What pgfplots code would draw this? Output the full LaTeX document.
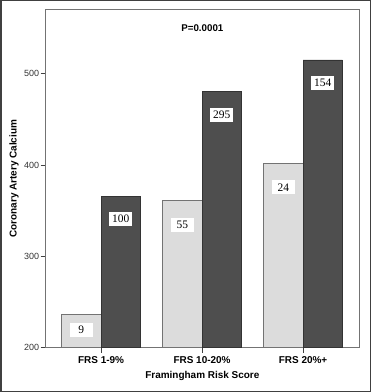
\documentclass[border=0pt]{standalone}
\usepackage{fontspec}
\setmainfont{Liberation Serif}
\setsansfont{Liberation Sans}
\usepackage{pgfplots}
\pgfplotsset{compat=1.18}
\definecolor{lightbar}{HTML}{DCDCDC}
\definecolor{darkbar}{HTML}{4E4E4E}
\begin{document}
\begin{tikzpicture}
\useasboundingbox (0,0) rectangle (371bp,392bp);
\draw[line width=1.5bp, color=black!75] (0.75bp,0.75bp) rectangle (370.25bp,391.25bp);
\begin{axis}[
  at={(45.7bp,44.3bp)}, anchor=south west,
  scale only axis, width=313.3bp, height=338bp,
  xmin=-0.548, xmax=2.554, ymin=200, ymax=570,
  xtick={0,1,2}, xticklabels={FRS 1-9\%, FRS 10-20\%, FRS 20\%+},
  ytick={200,300,400,500},
  tick align=outside, major tick length=5bp,
  xtick pos=bottom, ytick pos=left,
  axis line style={black!55, line width=0.8bp},
  tick style={black!75, line width=0.8bp},
  /pgf/number format/assume math mode=true,
  yticklabel style={font=\sffamily\fontsize{9}{10}\selectfont, text=black!80, inner sep=1.5bp},
  xticklabel style={font=\sffamily\bfseries\fontsize{10}{12}\selectfont},
  title={P=0.0001},
  title style={at={(axis description cs:0.5,0.928)}, anchor=center, font=\sffamily\bfseries\fontsize{9.8}{12}\selectfont},
  xlabel={Framingham Risk Score},
  xlabel style={at={(axis description cs:0.5,-0.085)}, anchor=center, font=\sffamily\bfseries\fontsize{10}{12}\selectfont},
  ylabel={Coronary Artery Calcium},
  ylabel style={at={(axis description cs:-0.101,0.5)}, anchor=center, rotate=0, font=\sffamily\bfseries\fontsize{10}{12}\selectfont},
]
\addplot[ybar, bar width=0.39, bar shift=0pt, fill=lightbar, draw=black!55, line width=0.7bp]
  coordinates {(-0.195,236.6) (0.805,361) (1.805,402)};
\addplot[ybar, bar width=0.39, bar shift=0pt, fill=darkbar, draw=black!80, line width=0.7bp]
  coordinates {(0.195,366) (1.195,481) (2.195,515)};
\addplot[draw=none, mark=none, nodes near coords, point meta=explicit symbolic,
  every node near coord/.append style={anchor=center, fill=white, text=black,
    font=\fontsize{11.5}{12}\selectfont, inner sep=2bp, minimum width=23bp, minimum height=14bp}]
  coordinates {(-0.195,219.4) [9] (0.195,341.3) [100] (0.805,334.5) [55]
               (1.195,455.2) [295] (1.805,375.4) [24] (2.195,489.6) [154]};
\end{axis}
\end{tikzpicture}
\end{document}
